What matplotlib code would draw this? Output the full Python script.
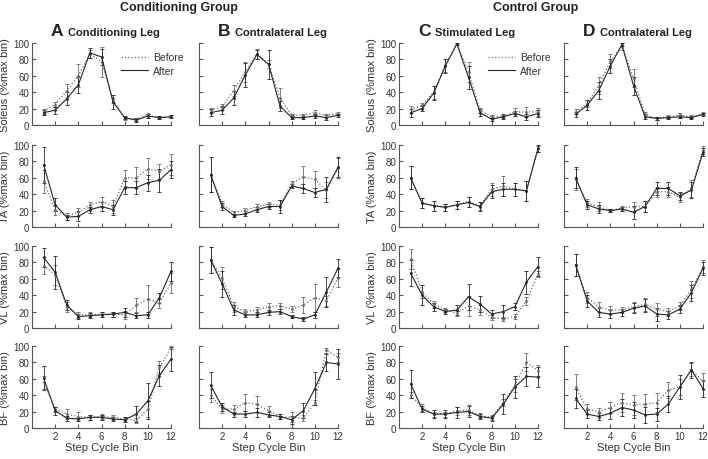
import matplotlib.pyplot as plt
from matplotlib.lines import Line2D
import numpy as np

plt.rcParams['font.family'] = ['Liberation Sans', 'DejaVu Sans']

bins = np.arange(1, 13)

# Soleus
sol_a_pre = [17, 25, 42, 60, 87, 77, 30, 8, 7, 12, 9, 10]
sol_a_pre_err = [3, 3, 8, 14, 5, 18, 3, 2, 2, 3, 2, 2]
sol_a_post = [15, 18, 32, 49, 88, 83, 28, 9, 6, 11, 9, 10]
sol_a_post_err = [3, 4, 8, 10, 6, 10, 8, 2, 2, 3, 2, 2]
sol_b_pre = [18, 22, 42, 65, 87, 74, 33, 12, 12, 15, 12, 14]
sol_b_pre_err = [3, 4, 7, 12, 6, 5, 12, 2, 2, 3, 2, 2]
sol_b_post = [15, 18, 33, 61, 86, 74, 23, 9, 9, 11, 9, 12]
sol_b_post_err = [4, 5, 8, 15, 6, 18, 6, 2, 2, 3, 3, 2]
sol_c_pre = [19, 24, 40, 73, 99, 65, 18, 10, 10, 16, 16, 16]
sol_c_pre_err = [4, 3, 8, 8, 1, 12, 3, 2, 2, 5, 6, 5]
sol_c_post = [15, 20, 39, 72, 99, 58, 15, 7, 10, 14, 10, 14]
sol_c_post_err = [5, 3, 9, 8, 1, 14, 4, 2, 3, 3, 4, 4]
sol_d_pre = [16, 26, 48, 78, 96, 57, 13, 8, 10, 12, 10, 14]
sol_d_pre_err = [3, 4, 10, 9, 4, 11, 3, 2, 2, 3, 2, 2]
sol_d_post = [13, 24, 42, 72, 98, 48, 10, 8, 9, 10, 9, 13]
sol_d_post_err = [3, 6, 10, 9, 2, 11, 3, 2, 2, 2, 2, 2]

# TA
ta_a_pre = [56, 21, 13, 18, 27, 31, 25, 60, 60, 71, 68, 76]
ta_a_pre_err = [14, 6, 4, 5, 4, 6, 8, 10, 13, 13, 9, 13]
ta_a_post = [76, 27, 12, 13, 21, 25, 21, 48, 48, 54, 57, 70]
ta_a_post_err = [22, 8, 3, 6, 4, 5, 6, 8, 8, 10, 14, 10]
ta_b_pre = [64, 28, 18, 20, 25, 28, 27, 53, 61, 58, 45, 72]
ta_b_pre_err = [21, 4, 2, 3, 3, 3, 6, 3, 13, 10, 10, 12]
ta_b_post = [64, 25, 14, 16, 21, 25, 25, 50, 47, 42, 46, 73]
ta_b_post_err = [21, 4, 2, 3, 3, 3, 8, 3, 6, 6, 15, 12]
ta_c_pre = [60, 29, 26, 24, 27, 31, 26, 46, 50, 46, 44, 95]
ta_c_pre_err = [14, 6, 6, 4, 5, 6, 5, 8, 12, 8, 12, 4]
ta_c_post = [60, 29, 26, 24, 27, 30, 25, 43, 46, 46, 44, 96]
ta_c_post_err = [14, 6, 6, 4, 5, 6, 5, 8, 8, 8, 12, 4]
ta_d_pre = [58, 29, 25, 20, 23, 25, 25, 43, 43, 36, 47, 94]
ta_d_pre_err = [13, 5, 5, 2, 3, 5, 7, 6, 6, 5, 10, 5]
ta_d_post = [60, 27, 22, 20, 22, 18, 25, 47, 47, 38, 45, 91]
ta_d_post_err = [13, 5, 5, 2, 3, 8, 7, 8, 8, 5, 10, 5]

# VL
vl_a_pre = [76, 65, 26, 16, 16, 17, 17, 16, 28, 35, 31, 55]
vl_a_pre_err = [10, 12, 6, 4, 3, 3, 3, 5, 8, 18, 6, 12]
vl_a_post = [86, 68, 28, 14, 15, 16, 17, 19, 15, 16, 37, 69]
vl_a_post_err = [12, 20, 6, 3, 3, 3, 3, 5, 3, 4, 6, 12]
vl_b_pre = [83, 61, 26, 20, 22, 26, 27, 23, 28, 37, 33, 61]
vl_b_pre_err = [16, 14, 6, 3, 4, 5, 4, 4, 10, 17, 6, 11]
vl_b_post = [83, 54, 22, 16, 16, 19, 20, 14, 11, 16, 44, 73]
vl_b_post_err = [16, 16, 6, 3, 3, 3, 3, 2, 2, 4, 18, 11]
vl_c_pre = [84, 44, 29, 22, 18, 27, 22, 13, 11, 14, 33, 66]
vl_c_pre_err = [12, 8, 4, 3, 3, 12, 6, 3, 3, 3, 5, 4]
vl_c_post = [67, 40, 26, 20, 22, 38, 29, 17, 20, 26, 56, 75]
vl_c_post_err = [16, 12, 5, 3, 6, 16, 10, 5, 8, 4, 14, 11]
vl_d_pre = [77, 37, 26, 22, 22, 26, 29, 23, 20, 27, 47, 75]
vl_d_pre_err = [13, 7, 6, 5, 4, 6, 8, 8, 5, 5, 10, 8]
vl_d_post = [77, 33, 19, 17, 19, 24, 27, 17, 16, 23, 43, 73]
vl_d_post_err = [13, 7, 6, 5, 4, 6, 8, 8, 5, 5, 10, 8]

# BF
bf_a_pre = [56, 23, 17, 14, 13, 14, 13, 11, 9, 23, 74, 98]
bf_a_pre_err = [8, 3, 6, 6, 3, 3, 3, 3, 3, 10, 8, 2]
bf_a_post = [61, 21, 12, 11, 13, 13, 11, 10, 17, 33, 64, 84]
bf_a_post_err = [15, 5, 3, 3, 3, 3, 3, 3, 10, 22, 13, 15]
bf_b_pre = [40, 23, 23, 31, 29, 21, 14, 13, 12, 31, 95, 86]
bf_b_pre_err = [8, 5, 5, 10, 10, 6, 3, 6, 4, 3, 3, 5]
bf_b_post = [52, 26, 17, 17, 19, 16, 14, 10, 21, 48, 80, 78]
bf_b_post_err = [16, 5, 3, 4, 5, 3, 3, 5, 9, 20, 10, 18]
bf_c_pre = [40, 25, 17, 17, 21, 22, 15, 13, 31, 52, 80, 70]
bf_c_pre_err = [4, 4, 3, 3, 5, 6, 3, 3, 4, 8, 11, 7]
bf_c_post = [54, 23, 17, 17, 19, 20, 14, 12, 29, 50, 63, 62]
bf_c_post_err = [17, 4, 5, 5, 7, 7, 3, 3, 12, 13, 12, 12]
bf_d_pre = [50, 23, 20, 25, 31, 28, 29, 31, 46, 50, 71, 57]
bf_d_pre_err = [16, 6, 4, 7, 12, 12, 12, 12, 10, 10, 8, 10]
bf_d_post = [36, 17, 14, 18, 25, 22, 16, 17, 29, 50, 71, 48]
bf_d_post_err = [12, 5, 4, 7, 10, 10, 10, 8, 10, 15, 10, 10]

muscles = ['Soleus', 'TA', 'VL', 'BF']
letters = ['A', 'B', 'C', 'D']
legs = ['Conditioning Leg', 'Contralateral Leg', 'Stimulated Leg', 'Contralateral Leg']

pre = [[sol_a_pre, sol_b_pre, sol_c_pre, sol_d_pre],
       [ta_a_pre, ta_b_pre, ta_c_pre, ta_d_pre],
       [vl_a_pre, vl_b_pre, vl_c_pre, vl_d_pre],
       [bf_a_pre, bf_b_pre, bf_c_pre, bf_d_pre]]
pre_err = [[sol_a_pre_err, sol_b_pre_err, sol_c_pre_err, sol_d_pre_err],
           [ta_a_pre_err, ta_b_pre_err, ta_c_pre_err, ta_d_pre_err],
           [vl_a_pre_err, vl_b_pre_err, vl_c_pre_err, vl_d_pre_err],
           [bf_a_pre_err, bf_b_pre_err, bf_c_pre_err, bf_d_pre_err]]
post = [[sol_a_post, sol_b_post, sol_c_post, sol_d_post],
        [ta_a_post, ta_b_post, ta_c_post, ta_d_post],
        [vl_a_post, vl_b_post, vl_c_post, vl_d_post],
        [bf_a_post, bf_b_post, bf_c_post, bf_d_post]]
post_err = [[sol_a_post_err, sol_b_post_err, sol_c_post_err, sol_d_post_err],
            [ta_a_post_err, ta_b_post_err, ta_c_post_err, ta_d_post_err],
            [vl_a_post_err, vl_b_post_err, vl_c_post_err, vl_d_post_err],
            [bf_a_post_err, bf_b_post_err, bf_c_post_err, bf_d_post_err]]

W, H = 708, 460
fig = plt.figure(figsize=(W / 100, H / 100), dpi=100)

col_left = [32, 199, 399, 564]
row_top = [44, 146, 247, 347]
aw, ah = 139, 82
dark = '#262626'
grey = '#6a6a6a'
axcol = '#555555'
txt = '#333333'

for r in range(4):
    for c in range(4):
        ax = fig.add_axes([col_left[c] / W, 1 - (row_top[r] + ah) / H, aw / W, ah / H])
        ax.errorbar(bins, pre[r][c], yerr=pre_err[r][c], color=grey, ls=':', lw=0.9,
                    marker='o', ms=1.0, elinewidth=0.6, capsize=1.5, capthick=0.6,
                    clip_on=False)
        ax.errorbar(bins, post[r][c], yerr=post_err[r][c], color=dark, ls='-', lw=0.8,
                    marker='o', ms=1.0, elinewidth=0.6, capsize=1.5, capthick=0.6,
                    clip_on=False)
        ax.set_xlim(0, 12)
        ax.set_ylim(0, 100)
        ax.set_xticks([2, 4, 6, 8, 10, 12])
        ax.set_yticks([0, 20, 40, 60, 80, 100])
        for s in ['top', 'right']:
            ax.spines[s].set_visible(False)
        for s in ['left', 'bottom']:
            ax.spines[s].set_color(axcol)
            ax.spines[s].set_linewidth(0.8)
        ax.tick_params(direction='in', length=3, width=0.8, color=axcol,
                       labelsize=7, labelcolor=txt, pad=2)
        if r < 3:
            ax.tick_params(labelbottom=False)
        else:
            ax.set_xlabel('Step Cycle Bin', fontsize=8, color=txt, labelpad=1)
        if c in (1, 3):
            ax.tick_params(labelleft=False)
        else:
            ax.set_ylabel(muscles[r] + ' (%max bin)', fontsize=8, color=txt, labelpad=2)
        if r == 0:
            ax.text(19 / aw, 1 + 12 / ah, letters[c], transform=ax.transAxes,
                    fontsize=12.5, fontweight='bold', ha='left', va='center', color='#222222')
            ax.text(36 / aw, 1 + 11 / ah, legs[c], transform=ax.transAxes,
                    fontsize=8, fontweight='bold', ha='left', va='center', color='#222222')
            if c in (0, 2):
                hs = [Line2D([], [], color=grey, ls=':', lw=0.9),
                      Line2D([], [], color=dark, ls='-', lw=0.8)]
                ax.legend(hs, ['Before', 'After'], loc='upper left',
                          bbox_to_anchor=(0.6, 0.95), frameon=False, fontsize=7.5,
                          handlelength=2.6, handletextpad=0.5, labelspacing=0.35,
                          borderpad=0, labelcolor=txt)

fig.text(179 / W, 1 - 8 / H, 'Conditioning Group', ha='center', va='center',
         fontsize=9, fontweight='bold', color='#222222')
fig.text(536 / W, 1 - 8 / H, 'Control Group', ha='center', va='center',
         fontsize=9, fontweight='bold', color='#222222')

fig.savefig('out.png', dpi=100)
